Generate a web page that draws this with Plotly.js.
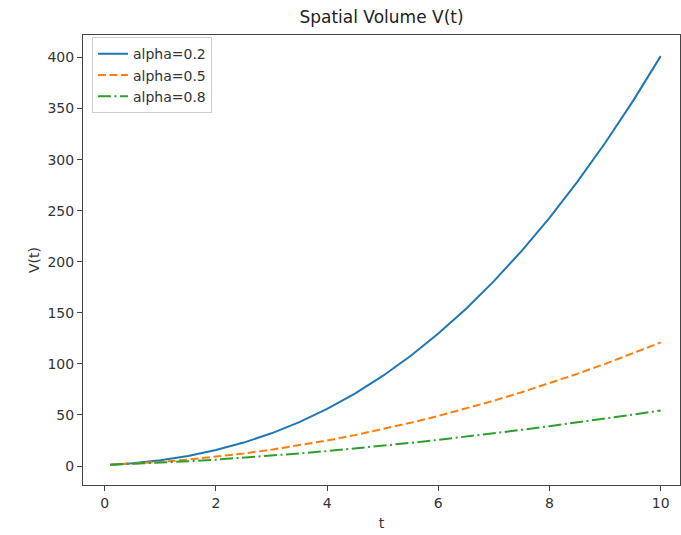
<!DOCTYPE html>
<html>
<head>
<meta charset="utf-8">
<script src="https://cdn.plot.ly/plotly-3.0.1.min.js"></script>
<style>
html, body { margin: 0; padding: 0; overflow: hidden; background: #fff; }
#chart { width: 681px; height: 535px; }
</style>
</head>
<body>
<div id="chart"></div>
<script>
// time values
const t = [0.1, 0.5, 1, 1.5, 2, 2.5, 3, 3.5, 4, 4.5, 5, 5.5, 6, 6.5, 7, 7.5, 8, 8.5, 9, 9.5, 10];
// V(t) for each alpha
const vAlpha02 = [1.27, 2.76, 5.66, 9.88, 15.59, 22.92, 32.0, 42.96, 55.9, 70.94, 88.18, 107.72, 129.64, 154.05, 181.02, 210.64, 243.0, 278.17, 316.23, 357.25, 401.31];
const vAlpha05 = [1.21, 2.25, 4.0, 6.25, 9.0, 12.25, 16.0, 20.25, 25.0, 30.25, 36.0, 42.25, 49.0, 56.25, 64.0, 72.25, 81.0, 90.25, 100.0, 110.25, 121.0];
const vAlpha08 = [1.17, 1.97, 3.18, 4.61, 6.24, 8.07, 10.08, 12.27, 14.62, 17.14, 19.81, 22.64, 25.61, 28.74, 32.0, 35.4, 38.94, 42.61, 46.42, 50.35, 54.41];
const seriesNames = ["alpha=0.2", "alpha=0.5", "alpha=0.8"];
const xTicks = [0, 2, 4, 6, 8, 10];
const yTicks = [0, 50, 100, 150, 200, 250, 300, 350, 400];

const font = "DejaVu Sans, sans-serif";
const traces = [
  {x: t, y: vAlpha02, name: seriesNames[0], mode: "lines", line: {color: "#1f77b4", width: 2, dash: "solid"}},
  {x: t, y: vAlpha05, name: seriesNames[1], mode: "lines", line: {color: "#ff7f0e", width: 2, dash: "8px,3.5px"}},
  {x: t, y: vAlpha08, name: seriesNames[2], mode: "lines", line: {color: "#2ca02c", width: 2, dash: "13px,3.5px,2px,3.5px"}}
];

const layout = {
  width: 681, height: 535,
  margin: {l: 83, r: 1, t: 35, b: 50, pad: 0},
  paper_bgcolor: "#fff", plot_bgcolor: "#fff",
  font: {family: font, size: 14, color: "#333"},
  title: {text: "Spatial Volume V(t)", font: {family: font, size: 17, color: "#222"}, x: 0.5, xref: "paper", y: 0.968, yref: "container", xanchor: "center", yanchor: "middle"},
  xaxis: {
    range: [-0.39, 10.347], tickvals: xTicks, ticktext: xTicks.map(String),
    ticks: "outside", ticklen: 5, tickwidth: 1, tickcolor: "#444",
    showline: true, linecolor: "#444", linewidth: 1, mirror: true,
    showgrid: false, zeroline: false,
    tickfont: {family: font, size: 14, color: "#333"},
    title: {text: "t", font: {family: font, size: 14, color: "#333"}, standoff: 8}
  },
  yaxis: {
    range: [-18.6, 422], tickvals: yTicks, ticktext: yTicks.map(String),
    ticks: "outside", ticklen: 5, tickwidth: 1, tickcolor: "#444",
    showline: true, linecolor: "#444", linewidth: 1, mirror: true,
    showgrid: false, zeroline: false,
    tickfont: {family: font, size: 14, color: "#333"},
    title: {text: "V(t)", font: {family: font, size: 14, color: "#333"}, standoff: 4}
  },
  showlegend: true,
  legend: {
    x: 0.015, y: 0.995, xanchor: "left", yanchor: "top",
    bgcolor: "rgba(255,255,255,0.8)", bordercolor: "#ccc", borderwidth: 1,
    font: {family: font, size: 14, color: "#333"},
    tracegroupgap: 0
  }
};

Plotly.newPlot("chart", traces, layout, {displayModeBar: false, staticPlot: true});
</script>
</body>
</html>
